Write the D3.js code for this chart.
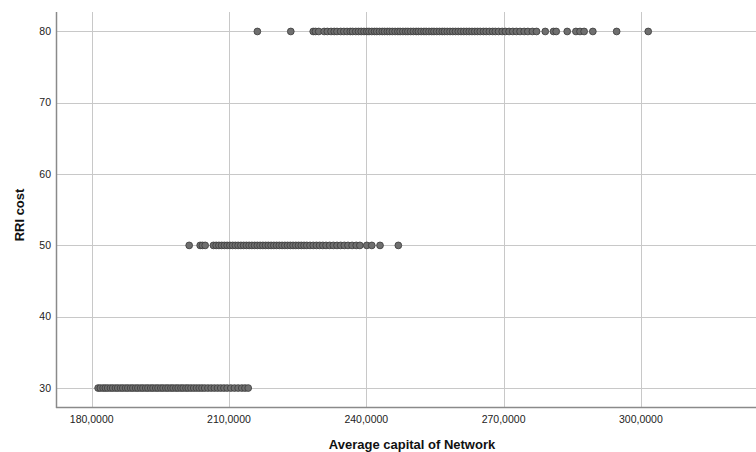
<!DOCTYPE html>
<html>
<head>
<meta charset="utf-8">
<script src="https://cdn.jsdelivr.net/npm/d3@7"></script>
<style>
  body { margin: 0; background: #fff; }
  text { font-family: "Liberation Sans", Arial, sans-serif; }
</style>
</head>
<body>
<svg></svg>
<script>
// Size of the SVG element
let width = 756,
    height = 452;

// Values: average capital per RRI cost level
let capital80 = [216.2, 223.5, 228.4, 228.9, 229.6, 230.8, 231.5, 232.3, 233.0, 233.6,
    234.4, 235.1, 235.8, 236.5, 237.0, 237.7, 238.3, 238.9, 239.5, 240.1, 240.6,
    241.2, 241.8, 242.3, 242.9, 243.5, 244.0, 244.6, 245.1, 245.7, 246.3, 246.9,
    247.4, 248.0, 248.6, 249.1, 249.7, 250.3, 250.9, 251.4, 252.0, 252.6, 253.1,
    253.7, 254.3, 254.8, 255.4, 256.0, 256.6, 257.1, 257.7, 258.3, 258.9, 259.5,
    260.1, 260.7, 261.3, 261.9, 262.5, 263.1, 263.7, 264.3, 264.9, 265.6, 266.2,
    266.9, 267.6, 268.2, 268.9, 269.7, 270.4, 271.2, 272.0, 272.8, 273.6, 274.5,
    275.3, 276.3, 277.2, 279.1, 280.9, 281.5, 283.9, 285.8, 286.7, 287.6, 289.5,
    294.7, 301.6];

let capital50 = [201.3, 203.7, 204.2, 204.8, 206.6, 207.2, 207.8, 208.4, 209.0, 209.6,
    210.2, 210.8, 211.4, 212.0, 212.6, 213.2, 213.8, 214.4, 215.0, 215.6, 216.2,
    216.8, 217.4, 218.0, 218.6, 219.2, 219.8, 220.4, 221.0, 221.6, 222.2, 222.8,
    223.4, 224.0, 224.6, 225.2, 225.8, 226.4, 227.0, 227.7, 228.4, 229.1, 229.8,
    230.5, 231.2, 232.0, 232.8, 233.6, 234.4, 235.2, 236.0, 236.9, 237.8, 238.6,
    240.1, 241.2, 243.0, 247.0];

let capital30 = [181.4, 181.9, 182.5, 183.0, 183.5, 184.1, 184.6, 185.2, 185.7, 186.3,
    186.8, 187.4, 187.9, 188.5, 189.0, 189.6, 190.1, 190.7, 191.2, 191.8, 192.3,
    192.9, 193.4, 194.0, 194.5, 195.1, 195.6, 196.2, 196.7, 197.3, 197.8, 198.4,
    198.9, 199.5, 200.0, 200.6, 201.1, 201.7, 202.3, 202.9, 203.5, 204.1, 204.7,
    205.4, 206.1, 206.8, 207.5, 208.2, 208.9, 209.6, 210.4, 211.2, 212.0, 212.8,
    213.5, 214.2];

let costLevels = [30, 50, 80];
let xTicks = [180, 210, 240, 270, 300];
let yTicks = [30, 40, 50, 60, 70, 80];

let xTitle = "Average capital of Network";
let yTitle = "RRI cost";

// Build point records from the arrays
let points = [];
[capital30, capital50, capital80].forEach(function(arr, i) {
    for (let v of arr) {
        points.push({x: v, y: costLevels[i]});
    }
});

let svg = d3.select("svg")
    .attr("width", width)
    .attr("height", height);

// Plot area
let plotLeft = 56, plotTop = 12, plotBottom = 407, plotRight = 756;

let x = d3.scaleLinear()
    .domain([172.2, 325.15])
    .range([plotLeft, plotRight]);

let y = d3.scaleLinear()
    .domain([27.34, 82.73])
    .range([plotBottom, plotTop]);

// Number format like "180,0000" (comma decimal)
let fmtX = d => d3.format(".4f")(d).replace(".", ",");

// Grid lines
svg.append("g")
    .selectAll("line")
    .data(xTicks)
    .enter().append("line")
    .attr("x1", d => Math.round(x(d)) + 0.5)
    .attr("x2", d => Math.round(x(d)) + 0.5)
    .attr("y1", plotTop)
    .attr("y2", plotBottom)
    .style("stroke", "#c8c8c8")
    .style("stroke-width", "1px");

svg.append("g")
    .selectAll("line")
    .data(yTicks)
    .enter().append("line")
    .attr("x1", plotLeft)
    .attr("x2", plotRight)
    .attr("y1", d => Math.round(y(d)) + 0.5)
    .attr("y2", d => Math.round(y(d)) + 0.5)
    .style("stroke", "#c8c8c8")
    .style("stroke-width", "1px");

// Axis lines
svg.append("line")
    .attr("x1", plotLeft + 0.5).attr("x2", plotLeft + 0.5)
    .attr("y1", plotTop).attr("y2", plotBottom + 1)
    .style("stroke", "#8a8a8a")
    .style("stroke-width", "1.5px");

svg.append("line")
    .attr("x1", plotLeft).attr("x2", plotRight)
    .attr("y1", plotBottom + 0.5).attr("y2", plotBottom + 0.5)
    .style("stroke", "#8a8a8a")
    .style("stroke-width", "1.5px");

// Tick labels
svg.append("g")
    .selectAll("text")
    .data(xTicks)
    .enter().append("text")
    .attr("x", d => x(d))
    .attr("y", 423)
    .attr("text-anchor", "middle")
    .style("font-size", "10.5px")
    .style("fill", "#222")
    .text(fmtX);

svg.append("g")
    .selectAll("text")
    .data(yTicks)
    .enter().append("text")
    .attr("x", 51)
    .attr("y", d => y(d))
    .attr("dy", "0.35em")
    .attr("text-anchor", "end")
    .style("font-size", "10.5px")
    .style("fill", "#222")
    .text(d => d);

// Axis titles
svg.append("text")
    .attr("x", 412)
    .attr("y", 449)
    .attr("text-anchor", "middle")
    .style("font-size", "13px")
    .style("font-weight", "bold")
    .style("fill", "#111")
    .text(xTitle);

svg.append("text")
    .attr("transform", "translate(24," + 215 + ") rotate(-90)")
    .attr("text-anchor", "middle")
    .style("font-size", "13px")
    .style("font-weight", "bold")
    .style("fill", "#111")
    .text(yTitle);

// Points
svg.append("g")
    .selectAll("circle")
    .data(points)
    .enter().append("circle")
    .attr("cx", d => x(d.x))
    .attr("cy", d => y(d.y))
    .attr("r", 3.4)
    .style("fill", "#6f6f6f")
    .style("stroke", "#3a3a3a")
    .style("stroke-width", "0.8px");
</script>
</body>
</html>
